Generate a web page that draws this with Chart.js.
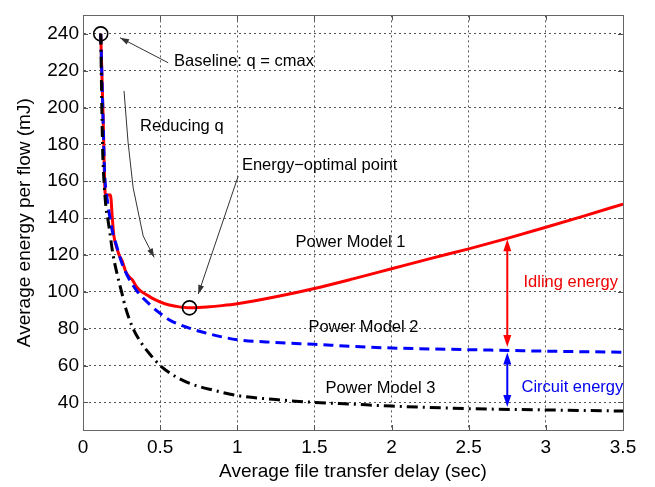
<!DOCTYPE html>
<html>
<head>
<meta charset="utf-8">
<script src="https://cdn.jsdelivr.net/npm/chart.js@4.4.1/dist/chart.umd.min.js"></script>
<style>
  html, body { margin: 0; padding: 0; background: #fff; }
  #wrap { width: 655px; height: 487px; }
</style>
</head>
<body>
<div id="wrap"><canvas id="chart" width="655" height="487"></canvas></div>
<script>
// delay in sec, energy in mJ
const model1Delay  = [0.115, 0.13, 0.145, 0.178, 0.19, 0.2, 0.215, 0.234, 0.255, 0.277, 0.3, 0.32, 0.345, 0.375, 0.42, 0.46, 0.53, 0.6, 0.69, 0.8, 0.9, 1.0, 1.25, 1.5, 1.75, 2.0, 2.25, 2.5, 2.75, 3.0, 3.25, 3.5];
const model1Energy = [240, 196, 152.5, 152.5, 140, 130.5, 125, 120, 116.5, 111, 108, 106.5, 103, 100.4, 98, 96, 93.5, 92.2, 91.3, 91.8, 92.5, 93.5, 97.3, 101.8, 107, 112.5, 118, 123.3, 129, 135, 141.2, 147.6];

const model2Delay  = [0.115, 0.128, 0.14, 0.157, 0.175, 0.195, 0.212, 0.25, 0.286, 0.35, 0.44, 0.5, 0.565, 0.7, 0.85, 1.0, 1.25, 1.5, 1.75, 2.0, 2.5, 3.0, 3.5];
const model2Energy = [240, 200, 165, 150, 140, 131, 126.5, 116, 109, 100.4, 92.5, 88.3, 84.5, 80, 76.5, 74, 72.5, 71.5, 70.4, 69.5, 68.6, 67.8, 67.2];

const model3Delay  = [0.115, 0.122, 0.128, 0.136, 0.15, 0.162, 0.195, 0.22, 0.25, 0.277, 0.325, 0.38, 0.435, 0.5, 0.6, 0.7, 0.85, 1.0, 1.25, 1.5, 1.75, 2.0, 2.5, 3.0, 3.5];
const model3Energy = [240, 200, 175, 160, 145, 139, 120, 110, 100, 91, 80, 72, 66, 60, 54, 50, 46.5, 43.7, 41.5, 40, 39, 38, 36.6, 35.9, 35.3];

// baseline and energy-optimal operating points (circled)
const markedDelay  = [0.115, 0.69];
const markedEnergy = [240, 91.3];

const delayTicks  = [0, 0.5, 1, 1.5, 2, 2.5, 3, 3.5];
const energyTicks = [40, 60, 80, 100, 120, 140, 160, 180, 200, 220, 240];

const FONT = '"Liberation Sans", Arial, Helvetica, sans-serif';

function toPoints(xs, ys) {
  return xs.map((x, i) => ({ x: x, y: ys[i] }));
}

// text labels placed in data coordinates
const notes = [
  { text: 'Baseline: q = cmax',   x: 0.59,  y: 224.8, color: '#000' },
  { text: 'Reducing q',           x: 0.37,  y: 189.6, color: '#000' },
  { text: 'Energy\u2212optimal point', x: 1.03, y: 168.6, color: '#000' },
  { text: 'Power Model 1',        x: 1.377, y: 126.8, color: '#000' },
  { text: 'Power Model 2',        x: 1.461, y: 80.4,  color: '#000' },
  { text: 'Power Model 3',        x: 1.571, y: 47.3,  color: '#000' },
  { text: 'Idling energy',        x: 2.855, y: 105,   color: '#ee0000' },
  { text: 'Circuit energy',       x: 2.842, y: 48,    color: '#0000ee' }
];

// thin pointer arrows, head at the last point
const pointers = [
  [[0.552, 224.3], [0.24, 237.9]],
  [[0.266, 209], [0.292, 181.2], [0.325, 156.5], [0.39, 130.3], [0.461, 118.7]],
  [[1.006, 162.8], [0.747, 98.8]]
];

// gaps between the models at delay = 2.75
const gapArrows = [
  { x: 2.75, top: 128.5, bottom: 70,   color: '#ff0000' },
  { x: 2.75, top: 67,    bottom: 37.5, color: '#0000ff' }
];

function arrowHead(ctx, x0, y0, x1, y1, len, half) {
  const a = Math.atan2(y1 - y0, x1 - x0);
  const c = Math.cos(a), s = Math.sin(a);
  ctx.beginPath();
  ctx.moveTo(x1, y1);
  ctx.lineTo(x1 - len * c + half * s, y1 - len * s - half * c);
  ctx.lineTo(x1 - len * c - half * s, y1 - len * s + half * c);
  ctx.closePath();
  ctx.fill();
}

const frame = {
  id: 'frame',
  beforeDatasetsDraw(chart) {
    const { ctx, chartArea: a, scales } = chart;
    ctx.save();
    ctx.strokeStyle = '#555';
    ctx.lineWidth = 1;
    ctx.beginPath();
    // inward tick marks on all four sides
    scales.x.ticks.forEach(t => {
      const px = Math.round(scales.x.getPixelForValue(t.value)) + 0.5;
      ctx.moveTo(px, a.bottom); ctx.lineTo(px, a.bottom - 5);
      ctx.moveTo(px, a.top); ctx.lineTo(px, a.top + 5);
    });
    scales.y.ticks.forEach(t => {
      const py = Math.round(scales.y.getPixelForValue(t.value)) + 0.5;
      ctx.moveTo(a.left, py); ctx.lineTo(a.left + 5, py);
      ctx.moveTo(a.right, py); ctx.lineTo(a.right - 5, py);
    });
    ctx.stroke();
    ctx.strokeStyle = '#666';
    ctx.strokeRect(Math.round(a.left) + 0.5, Math.round(a.top) + 0.5,
                   Math.round(a.right - a.left), Math.round(a.bottom - a.top));
    ctx.restore();
  }
};

const annotate = {
  id: 'annotate',
  afterDatasetsDraw(chart) {
    const { ctx, scales: { x, y } } = chart;
    const px = v => x.getPixelForValue(v);
    const py = v => y.getPixelForValue(v);
    ctx.save();

    // pointers
    ctx.strokeStyle = '#333';
    ctx.fillStyle = '#333';
    ctx.lineWidth = 1;
    pointers.forEach(path => {
      ctx.beginPath();
      path.forEach((p, i) => {
        if (i === 0) ctx.moveTo(px(p[0]), py(p[1]));
        else ctx.lineTo(px(p[0]), py(p[1]));
      });
      ctx.stroke();
      const n = path.length;
      arrowHead(ctx, px(path[n - 2][0]), py(path[n - 2][1]),
                px(path[n - 1][0]), py(path[n - 1][1]), 9, 3);
    });

    // double-headed gap arrows
    gapArrows.forEach(g => {
      const gx = px(g.x), t = py(g.top), b = py(g.bottom);
      ctx.strokeStyle = g.color;
      ctx.fillStyle = g.color;
      ctx.lineWidth = 2;
      ctx.beginPath();
      ctx.moveTo(gx, t + 8);
      ctx.lineTo(gx, b - 8);
      ctx.stroke();
      arrowHead(ctx, gx, b, gx, t, 12, 4);
      arrowHead(ctx, gx, t, gx, b, 12, 4);
    });

    // labels
    ctx.font = '16.5px ' + FONT;
    ctx.textAlign = 'left';
    ctx.textBaseline = 'middle';
    notes.forEach(n => {
      ctx.fillStyle = n.color;
      ctx.fillText(n.text, px(n.x), py(n.y));
    });
    ctx.restore();
  }
};

const ctx = document.getElementById('chart').getContext('2d');
new Chart(ctx, {
  type: 'scatter',
  data: {
    datasets: [
      {
        label: 'Power Model 1',
        data: toPoints(model1Delay, model1Energy),
        showLine: true,
        borderColor: '#ff0000',
        borderWidth: 3,
        pointRadius: 0,
        cubicInterpolationMode: 'monotone',
        order: 3
      },
      {
        label: 'Power Model 2',
        data: toPoints(model2Delay, model2Energy),
        showLine: true,
        borderColor: '#0000ff',
        borderWidth: 3,
        borderDash: [10, 6],
        pointRadius: 0,
        cubicInterpolationMode: 'monotone',
        order: 2
      },
      {
        label: 'Power Model 3',
        data: toPoints(model3Delay, model3Energy),
        showLine: true,
        borderColor: '#000',
        borderWidth: 3,
        borderDash: [11, 5, 2, 5],
        pointRadius: 0,
        cubicInterpolationMode: 'monotone',
        order: 1
      },
      {
        label: 'marked',
        data: toPoints(markedDelay, markedEnergy),
        showLine: false,
        pointRadius: 7,
        pointBorderWidth: 1.6,
        pointBorderColor: '#000',
        pointBackgroundColor: 'rgba(0,0,0,0)',
        order: 0
      }
    ]
  },
  options: {
    responsive: false,
    animation: false,
    layout: { padding: { top: 3, right: 32, left: 0, bottom: 0 } },
    plugins: { legend: { display: false }, tooltip: { enabled: false } },
    scales: {
      x: {
        type: 'linear',
        min: 0,
        max: 3.5,
        afterBuildTicks: s => { s.ticks = delayTicks.map(v => ({ value: v })); },
        afterFit: s => { s.height = 57; },
        grid: { color: '#555', lineWidth: 1, drawTicks: false },
        border: { color: '#666', dash: [2, 3] },
        ticks: {
          padding: 6,
          color: '#000',
          font: { family: FONT, size: 19 },
          callback: v => String(v)
        },
        title: {
          display: true,
          text: 'Average file transfer delay (sec)',
          color: '#000',
          font: { family: FONT, size: 19 },
          padding: { top: 0, bottom: 4 }
        }
      },
      y: {
        type: 'linear',
        min: 25,
        max: 250,
        afterBuildTicks: s => { s.ticks = energyTicks.map(v => ({ value: v })); },
        afterFit: s => { s.width = 83; },
        grid: { color: '#555', lineWidth: 1, drawTicks: false },
        border: { color: '#666', dash: [2, 3] },
        ticks: {
          padding: 4,
          color: '#000',
          font: { family: FONT, size: 19 }
        },
        title: {
          display: true,
          text: 'Average energy per flow (mJ)',
          color: '#000',
          font: { family: FONT, size: 19 },
          padding: { top: 13, bottom: 0 }
        }
      }
    }
  },
  plugins: [frame, annotate]
});
</script>
</body>
</html>
